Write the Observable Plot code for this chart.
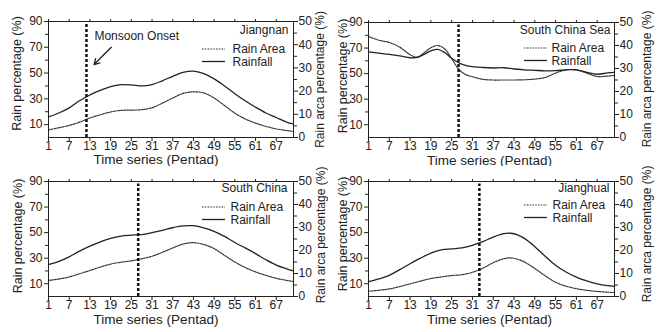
<!DOCTYPE html>
<html><head><meta charset="utf-8">
<script src="https://cdn.jsdelivr.net/npm/d3@7"></script>
<script src="https://cdn.jsdelivr.net/npm/@observablehq/plot@0.6"></script>
<style>
body{margin:0;background:#fff;}
#wrap{position:relative;width:657px;height:332px;overflow:hidden;background:#fff;}
.panel{position:absolute;}
</style>
</head><body><div id="wrap"></div>
<script>
// ---- tick labels / texts ----
const xTicks = [1, 7, 13, 19, 25, 31, 37, 43, 49, 55, 61, 67];
const leftTicks = [10, 30, 50, 70, 90];
const leftMinor = [20, 40, 60, 80];
const rightTicks = [0, 10, 20, 30, 40, 50];
const rightMinor = [5, 15, 25, 35, 45];
const xLabel = "Time series (Pentad)";
const yLabel = "Rain percentage (%)";
const rightLabel = "Rain arca percentage (%)";
const legendLabels = ["Rain Area", "Rainfall"];
const titles = ["Jiangnan", "South China Sea", "South China", "Jianghual"];

// ---- Jiangnan ----
const jiangnanPentad   = [1,4,7,10,13,16,19,22,25,28,31,34,37,40,43,46,49,52,55,58,61,64,67,70,72];
const jiangnanRainfall = [16,19,23,28.5,33,36.5,39.5,41,40.8,40,41,44,47.5,50.5,51.5,49.5,45.5,40,34,28.5,23.5,19,15.5,12,10.5];
const jiangnanArea     = [3.3,4.2,5.2,6.6,8.4,9.8,11,11.7,11.8,12,12.8,14.8,17,19,19.7,19.2,17,13.8,10.5,8,6.2,4.8,3.7,3,2.6];
const jiangnanOnset = 12;
const onsetNote = [{label: "Monsoon Onset", x: 14.3, y: 78.4, x1: 19.2, y1: 70, x2: 14.2, y2: 56.6}];

// ---- South China Sea ----
const scsPentad   = [1,4,7,10,13,15,17,19,21,23,25,27,29,31,34,37,40,43,46,49,52,55,58,61,64,67,70,72];
const scsRainfall = [67,66,65,63.8,62.4,62.8,65,67.8,69,66.5,62,58.5,56.5,55.5,54.8,54.4,54.6,53.6,53,52.6,52.2,52.3,53,53,51,49.5,50.5,51];
const scsArea     = [43.9,42.3,41.3,39.3,36,34.8,36.8,39,40,38.5,34.3,29.8,27.4,26.4,25.3,25,25,25,25.1,25.4,26.1,28,29.4,29.4,28,26.5,26.7,27];
const scsOnset = 27;

// ---- South China ----
const scPentad   = [1,4,7,10,13,16,19,22,25,28,31,34,37,40,43,46,49,52,55,58,61,64,67,70,72];
const scRainfall = [25,27.5,31,35.5,39.4,42.8,45.5,47.3,48,48.5,50,51.8,53.8,55.2,55.4,53.8,51,47,42.3,38,33.6,28.8,24.6,21.7,20];
const scArea     = [7,7.6,8.5,9.9,11.3,12.8,14.1,14.9,15.5,16.4,17.5,19.2,21.1,22.8,23.4,22.6,20.8,17.9,15,12.6,10.7,9.2,7.9,7,6.5];
const scOnset = 27;

// ---- Jianghuai ----
const jhPentad   = [1,4,7,10,13,16,19,22,25,28,31,34,37,40,42,44,46,49,52,55,58,61,64,67,70,72];
const jhRainfall = [11.7,13.8,16.6,21,25.6,30,34,36.5,37.3,38,40,43,46.5,49.2,49.5,48.3,45.5,39,31.5,24.5,19.2,15.2,12.2,9.9,8.5,8];
const jhArea     = [2.3,2.7,3.3,4.3,5.5,6.7,7.8,8.5,9.1,9.5,10.5,12.3,14.7,16.4,16.8,16.2,15,12.2,9,6.2,4.5,3.4,2.7,2.2,1.9,1.7];
const jhOnset = 33;

const RATIO = 90 / 50; // right axis (0-50) onto left axis (0-90)
const FONT = "Liberation Sans, Arial, Helvetica, sans-serif";

const panels = [
  {title: titles[0], pentad: jiangnanPentad, rain: jiangnanRainfall, area: jiangnanArea, onset: jiangnanOnset, note: onsetNote,
   left: 0, top: 0, W: 328, H: 166, m: {t: 21, r: 35, b: 29, l: 48},
   lab: {tdx: -5, tdy: 9, ldx: -61, ldy: 28, xdx: -15, xdy: 22, ydx: -32, ydy: -6, rdx: 27, rdy: 0, s1: -91, s2: -68}},
  {title: titles[1], pentad: scsPentad, rain: scsRainfall, area: scsArea, onset: scsOnset,
   left: 328, top: 0, W: 329, H: 166, m: {t: 22, r: 43, b: 29, l: 40},
   lab: {tdx: -4, tdy: 8, ldx: -63, ldy: 26, xdx: -2, xdy: 23, ydx: -26, ydy: -4, rdx: 33, rdy: -1, s1: -90, s2: -67}},
  {title: titles[2], pentad: scPentad, rain: scRainfall, area: scArea, onset: scOnset,
   left: 0, top: 166, W: 328, H: 166, m: {t: 15, r: 35, b: 36, l: 48},
   lab: {tdx: -6, tdy: 7, ldx: -63, ldy: 26, xdx: -15, xdy: 23.5, ydx: -31, ydy: -3, rdx: 28, rdy: -4, s1: -91, s2: -68}},
  {title: titles[3], pentad: jhPentad, rain: jhRainfall, area: jhArea, onset: jhOnset,
   left: 328, top: 166, W: 329, H: 166, m: {t: 15, r: 43, b: 36, l: 40},
   lab: {tdx: -5, tdy: 7, ldx: -62, ldy: 24, xdx: -2, xdy: 23.5, ydx: -26, ydy: -5, rdx: 33, rdy: -5, s1: -90, s2: -67}}
];

const wrap = document.getElementById("wrap");
const T = {fill: "#222", textAnchor: "middle", lineAnchor: "middle"};

for (const cfg of panels) {
  const {title, pentad, rain, area, onset, note, W, H, m, lab} = cfg;
  const rows = pentad.map((p, i) => ({p, rain: rain[i], area: area[i] * RATIO}));
  const marks = [
    Plot.line(rows, {x: "p", y: "area", curve: "catmull-rom", stroke: "#333", strokeWidth: 1.2, strokeDasharray: "1.6,1.2"}),
    Plot.line(rows, {x: "p", y: "rain", curve: "catmull-rom", stroke: "#222", strokeWidth: 1.3}),
    Plot.ruleX([onset], {y1: 0, y2: 88, stroke: "#111", strokeWidth: 2.5, strokeDasharray: "3,2"}),
    Plot.frame({stroke: "#222", strokeWidth: 1}),
    Plot.axisX({anchor: "bottom", ticks: xTicks, tickSize: 4, tickPadding: 0, label: null, fontSize: 12}),
    Plot.axisX({anchor: "top", ticks: xTicks, tickSize: 3, tickFormat: () => "", label: null}),
    Plot.axisY({anchor: "left", ticks: leftTicks, tickSize: 4, tickPadding: 2, label: null, fontSize: 12}),
    Plot.axisY({anchor: "left", ticks: leftMinor, tickSize: 3, tickFormat: () => "", label: null}),
    Plot.axisY({anchor: "right", ticks: rightTicks.map(v => v * RATIO), tickFormat: d => String(Math.round(d / RATIO)), tickSize: 4, tickPadding: 1, label: null, fontSize: 12}),
    Plot.axisY({anchor: "right", ticks: rightMinor.map(v => v * RATIO), tickSize: 3, tickFormat: () => "", label: null}),
    Plot.text([title], {...T, text: d => d, frameAnchor: "top-right", textAnchor: "end", dx: lab.tdx, dy: lab.tdy, fontSize: 12}),
    Plot.text([legendLabels[0]], {...T, text: d => d, frameAnchor: "top-right", textAnchor: "start", dx: lab.ldx, dy: lab.ldy, fontSize: 12}),
    Plot.text([legendLabels[1]], {...T, text: d => d, frameAnchor: "top-right", textAnchor: "start", dx: lab.ldx, dy: lab.ldy + 12.5, fontSize: 12}),
    Plot.text([xLabel], {...T, text: d => d, frameAnchor: "bottom", dx: lab.xdx, dy: lab.xdy, fontSize: 13.5}),
    Plot.text([yLabel], {...T, text: d => d, frameAnchor: "left", rotate: -90, dx: lab.ydx, dy: lab.ydy, fontSize: 12.5}),
    Plot.text([rightLabel], {...T, text: d => d, frameAnchor: "right", rotate: -90, dx: lab.rdx, dy: lab.rdy, fontSize: 12})
  ];
  if (note) {
    marks.push(Plot.text(note, {x: "x", y: "y", text: "label", textAnchor: "start", lineAnchor: "middle", fontSize: 12, fill: "#222"}));
    marks.push(Plot.arrow(note, {x1: "x1", y1: "y1", x2: "x2", y2: "y2", stroke: "#222", strokeWidth: 1.3, headLength: 7}));
  }
  const svg = Plot.plot({
    width: W, height: H,
    marginTop: m.t, marginRight: m.r, marginBottom: m.b, marginLeft: m.l,
    x: {domain: [1, 72]},
    y: {domain: [0, 90]},
    style: {fontFamily: FONT, fontSize: "12px", color: "#222", background: "#fff", overflow: "visible"},
    marks
  });
  // legend line samples
  const fr = W - m.r;
  const g = d3.select(svg).append("g");
  g.append("line").attr("x1", fr + lab.s1).attr("x2", fr + lab.s2)
    .attr("y1", m.t + lab.ldy).attr("y2", m.t + lab.ldy)
    .attr("stroke", "#333").attr("stroke-width", 1.2).attr("stroke-dasharray", "1.6,1.2");
  g.append("line").attr("x1", fr + lab.s1).attr("x2", fr + lab.s2)
    .attr("y1", m.t + lab.ldy + 12.5).attr("y2", m.t + lab.ldy + 12.5)
    .attr("stroke", "#222").attr("stroke-width", 1.3);
  const div = document.createElement("div");
  div.className = "panel";
  div.style.left = cfg.left + "px";
  div.style.top = cfg.top + "px";
  div.appendChild(svg);
  wrap.appendChild(div);
}
</script>
</body></html>
